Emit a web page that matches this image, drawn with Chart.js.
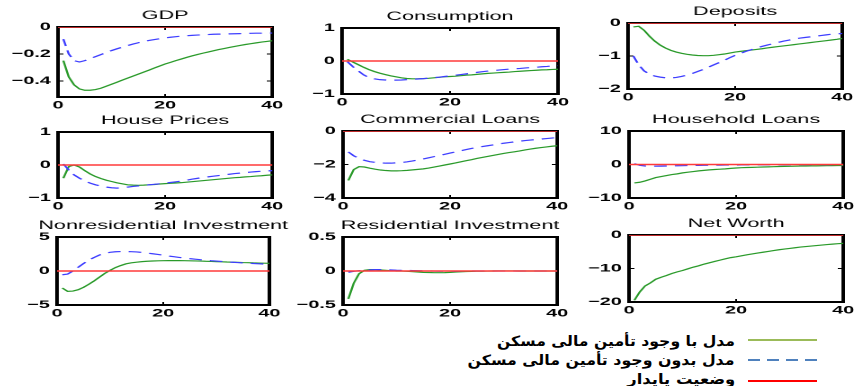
<!DOCTYPE html>
<html>
<head>
<meta charset="utf-8">
<script src="https://cdn.jsdelivr.net/npm/chart.js@4/dist/chart.umd.min.js"></script>
<style>
  html, body { margin: 0; padding: 0; background: #fff; width: 858px; height: 386px; overflow: hidden; position: relative; }
  .panel { position: absolute; transform-origin: 0 0; }
  .panel canvas { display: block; }
  .lg-text { position: absolute; direction: rtl; white-space: nowrap; font: bold 14px "DejaVu Sans", sans-serif; color: #000; line-height: 18px; transform-origin: 100% 50%; }
  .lg-line { position: absolute; left: 748px; width: 69px; height: 2px; }
</style>
</head>
<body>
<div id="panels"></div>

<div class="lg-text" data-w="238" style="right:123px; top:332px;">مدل با وجود تأمین مالی مسکن</div>
<div class="lg-line" style="top:339px; background:#9bbb59;"></div>
<div class="lg-text" data-w="267" style="right:123px; top:351px;">مدل بدون وجود تأمین مالی مسکن</div>
<div class="lg-line" style="top:359px; background:repeating-linear-gradient(90deg,#4f81bd 0 12px,transparent 12px 19px);"></div>
<div class="lg-text" data-w="108" style="right:123px; top:370px;">وضعیت پایدار</div>
<div class="lg-line" style="top:380px; background:#ff0000;"></div>

<script>
// Impulse responses over 40 quarters: with housing finance vs without housing finance.
const quarters = [1,2,3,4,5,6,7,8,9,10,11,12,13,14,15,16,17,18,19,20,
                  21,22,23,24,25,26,27,28,29,30,31,32,33,34,35,36,37,38,39,40];

const gdpWith = [-0.25,-0.37,-0.43,-0.46,-0.47,-0.47,-0.465,-0.455,-0.44,-0.425,-0.41,-0.395,-0.38,-0.365,-0.35,-0.335,-0.32,-0.305,-0.29,-0.275,
                 -0.263,-0.25,-0.238,-0.226,-0.215,-0.205,-0.195,-0.186,-0.177,-0.168,-0.16,-0.152,-0.144,-0.137,-0.13,-0.124,-0.118,-0.112,-0.107,-0.102];
const gdpWithout = [-0.09,-0.2,-0.25,-0.26,-0.25,-0.235,-0.22,-0.205,-0.19,-0.175,-0.162,-0.15,-0.138,-0.127,-0.117,-0.108,-0.1,-0.093,-0.087,-0.081,
                    -0.076,-0.072,-0.068,-0.065,-0.062,-0.06,-0.058,-0.056,-0.054,-0.053,-0.052,-0.051,-0.05,-0.049,-0.048,-0.047,-0.046,-0.046,-0.045,-0.045];

const consumptionWith = [0.05,-0.03,-0.11,-0.19,-0.26,-0.32,-0.37,-0.41,-0.45,-0.48,-0.51,-0.53,-0.54,-0.54,-0.535,-0.525,-0.51,-0.495,-0.48,-0.47,
                         -0.46,-0.445,-0.43,-0.42,-0.405,-0.39,-0.375,-0.365,-0.355,-0.345,-0.335,-0.32,-0.31,-0.3,-0.29,-0.28,-0.27,-0.265,-0.255,-0.25];
const consumptionWithout = [-0.02,-0.17,-0.3,-0.42,-0.5,-0.54,-0.565,-0.575,-0.58,-0.58,-0.575,-0.565,-0.555,-0.545,-0.535,-0.52,-0.505,-0.49,-0.47,-0.45,
                            -0.43,-0.41,-0.39,-0.37,-0.345,-0.325,-0.305,-0.29,-0.275,-0.26,-0.245,-0.235,-0.225,-0.21,-0.2,-0.19,-0.175,-0.165,-0.15,-0.14];

const depositsWith = [-0.12,-0.1,-0.22,-0.4,-0.55,-0.67,-0.76,-0.83,-0.88,-0.92,-0.95,-0.97,-0.985,-0.99,-0.99,-0.98,-0.96,-0.94,-0.91,-0.88,
                      -0.86,-0.84,-0.82,-0.8,-0.78,-0.755,-0.735,-0.715,-0.695,-0.675,-0.655,-0.635,-0.615,-0.595,-0.575,-0.555,-0.535,-0.515,-0.495,-0.47];
const depositsWithout = [-1.0,-1.27,-1.45,-1.55,-1.61,-1.64,-1.66,-1.665,-1.65,-1.62,-1.58,-1.53,-1.47,-1.41,-1.34,-1.27,-1.2,-1.13,-1.05,-0.98,
                         -0.92,-0.86,-0.81,-0.76,-0.71,-0.67,-0.63,-0.59,-0.55,-0.52,-0.49,-0.46,-0.44,-0.42,-0.4,-0.38,-0.36,-0.34,-0.33,-0.32];

const housePricesWith = [-0.4,-0.05,0,-0.06,-0.17,-0.27,-0.35,-0.41,-0.46,-0.5,-0.54,-0.57,-0.6,-0.61,-0.615,-0.61,-0.6,-0.59,-0.575,-0.565,
                         -0.555,-0.545,-0.535,-0.52,-0.505,-0.49,-0.475,-0.46,-0.445,-0.43,-0.415,-0.4,-0.385,-0.375,-0.36,-0.35,-0.335,-0.325,-0.31,-0.3];
const housePricesWithout = [0.03,-0.15,-0.3,-0.4,-0.48,-0.55,-0.6,-0.64,-0.67,-0.69,-0.7,-0.69,-0.67,-0.65,-0.635,-0.62,-0.6,-0.585,-0.57,-0.55,
                            -0.53,-0.51,-0.49,-0.46,-0.43,-0.405,-0.38,-0.36,-0.34,-0.32,-0.3,-0.28,-0.26,-0.245,-0.23,-0.215,-0.2,-0.19,-0.18,-0.17];

const commercialLoansWith = [-2.95,-2.3,-2.13,-2.15,-2.22,-2.28,-2.33,-2.36,-2.38,-2.38,-2.37,-2.35,-2.32,-2.29,-2.26,-2.21,-2.15,-2.09,-2.03,-1.97,
                             -1.91,-1.84,-1.77,-1.71,-1.64,-1.58,-1.52,-1.46,-1.4,-1.34,-1.29,-1.24,-1.19,-1.13,-1.08,-1.03,-0.99,-0.95,-0.91,-0.88];
const commercialLoansWithout = [-1.25,-1.48,-1.64,-1.75,-1.83,-1.87,-1.9,-1.92,-1.92,-1.9,-1.88,-1.84,-1.79,-1.73,-1.67,-1.6,-1.53,-1.46,-1.39,-1.32,
                                -1.25,-1.18,-1.11,-1.04,-0.98,-0.93,-0.88,-0.83,-0.78,-0.73,-0.69,-0.65,-0.61,-0.57,-0.54,-0.51,-0.48,-0.45,-0.42,-0.39];

const householdLoansWith = [-5.5,-5.3,-4.9,-4.4,-3.9,-3.6,-3.3,-3.0,-2.8,-2.5,-2.3,-2.1,-1.9,-1.75,-1.6,-1.5,-1.4,-1.3,-1.15,-1.05,
                            -0.95,-0.9,-0.85,-0.8,-0.75,-0.7,-0.65,-0.6,-0.57,-0.54,-0.5,-0.47,-0.44,-0.42,-0.4,-0.38,-0.36,-0.34,-0.32,-0.3];
const householdLoansWithout = [0.25,-0.25,-0.45,-0.5,-0.5,-0.48,-0.45,-0.42,-0.38,-0.35,-0.32,-0.29,-0.26,-0.24,-0.22,-0.2,-0.18,-0.16,-0.15,-0.14,
                               -0.13,-0.12,-0.11,-0.1,-0.095,-0.09,-0.085,-0.08,-0.075,-0.07,-0.065,-0.06,-0.058,-0.055,-0.052,-0.05,-0.048,-0.046,-0.044,-0.042];

const nonresInvWith = [-2.5,-3.0,-2.95,-2.75,-2.4,-1.95,-1.45,-0.9,-0.35,0.1,0.5,0.8,1.05,1.2,1.3,1.38,1.43,1.47,1.5,1.52,
                       1.53,1.53,1.53,1.52,1.5,1.48,1.46,1.43,1.41,1.38,1.35,1.32,1.3,1.27,1.24,1.22,1.19,1.17,1.15,1.13];
const nonresInvWithout = [-0.55,-0.45,0.0,0.55,1.1,1.6,2.0,2.35,2.6,2.75,2.83,2.86,2.86,2.84,2.8,2.73,2.64,2.54,2.43,2.32,
                          2.2,2.1,2.0,1.91,1.82,1.74,1.66,1.59,1.52,1.46,1.4,1.34,1.29,1.24,1.19,1.14,1.1,1.06,1.02,0.99];

const resInvWith = [-0.41,-0.18,-0.04,0.01,0.02,0.02,0.015,0.01,0.005,0,0,-0.005,-0.01,-0.015,-0.02,-0.022,-0.025,-0.025,-0.024,-0.02,
                    -0.016,-0.012,-0.008,-0.005,-0.003,-0.002,-0.001,0,0.001,0.001,0.001,0.001,0,0,0,0,0,0,0,0];
const resInvWithout = [-0.02,-0.005,0.005,0.01,0.015,0.02,0.02,0.018,0.015,0.012,0.01,0.008,0.006,0.004,0.002,0,-0.001,-0.002,-0.002,-0.002,
                       -0.002,-0.001,-0.001,0,0,0,0,0,0,0,0,0,0,0,0,0,0,0,0,0];

const netWorthWith = [-19.5,-17,-15.2,-14.3,-13.2,-12.6,-12.1,-11.5,-11,-10.6,-10.1,-9.6,-9.2,-8.7,-8.3,-7.9,-7.5,-7.1,-6.75,-6.5,
                      -6.2,-5.9,-5.65,-5.4,-5.15,-4.9,-4.65,-4.4,-4.2,-4.0,-3.8,-3.6,-3.45,-3.3,-3.15,-3.0,-2.85,-2.72,-2.6,-2.5];

// Steady state reference line
const steadyX = [0, 40];
const steadyState = [0, 0];

// Axis tick values
const xTicks = [0, 20, 40];
const gdpTicks = [-0.4, -0.2, 0];
const unitTicks = [-1, 0, 1];
const depositTicks = [-2, -1, 0];
const commercialTicks = [-4, -2, 0];
const householdTicks = [-10, 0, 10];
const nonresTicks = [-5, 0, 5];
const resTicks = [-0.5, 0, 0.5];
const netWorthTicks = [-20, -10, 0];

const seriesNames = ['مدل با وجود تأمین مالی مسکن', 'مدل بدون وجود تأمین مالی مسکن', 'وضعیت پایدار'];

// Layout: each small panel is drawn narrow and widened horizontally.
const STRETCH = 1.8, AXIS_W = 30, PAD_TOP = 24, PAD_RIGHT = 16, XAXIS_H = 18;
const TICK_FONT = { family: '"Liberation Sans", Arial, sans-serif', size: 11, weight: 'bold' };
const FRAME = '#000000';

const panels = [
  { title: 'GDP', withHF: gdpWith, withoutHF: gdpWithout, yMin: -0.52, yMax: 0, yTicks: gdpTicks, box: [58, 272, 27, 97] },
  { title: 'Consumption', withHF: consumptionWith, withoutHF: consumptionWithout, yMin: -1, yMax: 1, yTicks: unitTicks, box: [342, 558, 28, 94] },
  { title: 'Deposits', withHF: depositsWith, withoutHF: depositsWithout, yMin: -2, yMax: 0, yTicks: depositTicks, box: [628, 843, 23, 89] },
  { title: 'House Prices', withHF: housePricesWith, withoutHF: housePricesWithout, yMin: -1, yMax: 1, yTicks: unitTicks, box: [58, 273, 132, 198] },
  { title: 'Commercial Loans', withHF: commercialLoansWith, withoutHF: commercialLoansWithout, yMin: -4, yMax: 0, yTicks: commercialTicks, box: [343, 558, 131, 198] },
  { title: 'Household Loans', withHF: householdLoansWith, withoutHF: householdLoansWithout, yMin: -10, yMax: 10, yTicks: householdTicks, box: [629, 844, 131, 198] },
  { title: 'Nonresidential Investment', withHF: nonresInvWith, withoutHF: nonresInvWithout, yMin: -5, yMax: 5, yTicks: nonresTicks, box: [57, 270, 237, 305] },
  { title: 'Residential Investment', withHF: resInvWith, withoutHF: resInvWithout, yMin: -0.5, yMax: 0.5, yTicks: resTicks, box: [343, 558, 237, 305] },
  { title: 'Net Worth', withHF: netWorthWith, withoutHF: null, yMin: -20, yMax: 0, yTicks: netWorthTicks, box: [629, 844, 235, 302] }
];

const fmtTick = v => (v === 0 ? '0' : String(v).replace('-', '\u2212'));

// Panel title above the plot box
const panelTitle = {
  id: 'panelTitle',
  afterDraw(chart, args, opts) {
    const a = chart.chartArea;
    const ctx = chart.ctx;
    ctx.save();
    ctx.font = '12px "Liberation Sans", Arial, sans-serif';
    ctx.fillStyle = '#000';
    ctx.textAlign = 'center';
    ctx.textBaseline = 'middle';
    ctx.fillText(opts.text, (a.left + a.right) / 2, a.top - 11.5);
    ctx.restore();
  }
};

// One side of the box: an axis line with short inward tick marks
function boxSide(position, min, max, ticks, labelled) {
  const horizontal = position === 'top' || position === 'bottom';
  return {
    type: 'linear', position, min, max,
    afterBuildTicks: s => { s.ticks = ticks.map(v => ({ value: v })); },
    afterFit: s => {
      if (horizontal) s.height = labelled ? XAXIS_H : 0;
      else s.width = labelled ? AXIS_W : 0;
    },
    grid: { display: true, drawOnChartArea: false, drawTicks: true, tickLength: -3, color: FRAME, lineWidth: 1 },
    border: { display: true, color: FRAME, width: 2 },
    ticks: {
      display: labelled, padding: horizontal ? 5 : 7, font: TICK_FONT, color: '#000',
      maxRotation: 0, autoSkip: false, callback: fmtTick
    }
  };
}

const holder = document.getElementById('panels');

panels.forEach(p => {
  const [L, R, T, B] = p.box;
  const cw = Math.round(AXIS_W + (R - L) / STRETCH + PAD_RIGHT);
  const ch = PAD_TOP + (B - T) + XAXIS_H;

  const div = document.createElement('div');
  div.className = 'panel';
  div.style.left = (L - AXIS_W * STRETCH) + 'px';
  div.style.top = (T - PAD_TOP) + 'px';
  div.style.width = cw + 'px';
  div.style.height = ch + 'px';
  div.style.transform = 'scaleX(' + STRETCH + ')';
  const canvas = document.createElement('canvas');
  canvas.width = cw; canvas.height = ch;
  canvas.style.width = cw + 'px'; canvas.style.height = ch + 'px';
  div.appendChild(canvas);
  holder.appendChild(div);

  // first dataset is painted last (on top); the box outline goes at the end so it sits underneath
  const datasets = [
    { label: seriesNames[2], data: steadyX.map((x, i) => ({ x, y: steadyState[i] })),
      borderColor: '#ff3a3a', borderWidth: 1.6 }
  ];
  if (p.withoutHF) {
    datasets.push({ label: seriesNames[1], data: quarters.map((q, i) => ({ x: q, y: p.withoutHF[i] })),
      borderColor: '#3d3dff', borderWidth: 1.2, borderDash: [7, 4.5] });
  }
  datasets.push({ label: seriesNames[0], data: quarters.map((q, i) => ({ x: q, y: p.withHF[i] })),
    borderColor: '#2a9a2a', borderWidth: 1.2 });
  // outline of the plot box along the axis limits
  datasets.push({ label: 'box',
    data: [{ x: 0, y: p.yMax }, { x: 40, y: p.yMax }, { x: 40, y: p.yMin }, { x: 0, y: p.yMin }, { x: 0, y: p.yMax }],
    borderColor: FRAME, borderWidth: 2, borderJoinStyle: 'miter', borderCapStyle: 'square', clip: 4 });

  new Chart(canvas, {
    type: 'line',
    data: { datasets },
    plugins: [panelTitle],
    options: {
      responsive: false,
      animation: false,
      devicePixelRatio: 2,
      layout: { padding: { top: PAD_TOP, right: PAD_RIGHT, left: 0, bottom: 0 } },
      elements: { point: { radius: 0 }, line: { tension: 0 } },
      plugins: { legend: { display: false }, tooltip: { enabled: false }, panelTitle: { text: p.title } },
      scales: {
        x: boxSide('bottom', 0, 40, xTicks, true),
        xTop: boxSide('top', 0, 40, xTicks, false),
        y: boxSide('left', p.yMin, p.yMax, p.yTicks, true),
        yRight: boxSide('right', p.yMin, p.yMax, p.yTicks, false)
      }
    }
  });
});

// Legend labels take the set widths
document.querySelectorAll('.lg-text').forEach(el => {
  const w = el.getBoundingClientRect().width;
  el.style.transform = 'scaleX(' + (Number(el.dataset.w) / w) + ')';
});
</script>
</body>
</html>
